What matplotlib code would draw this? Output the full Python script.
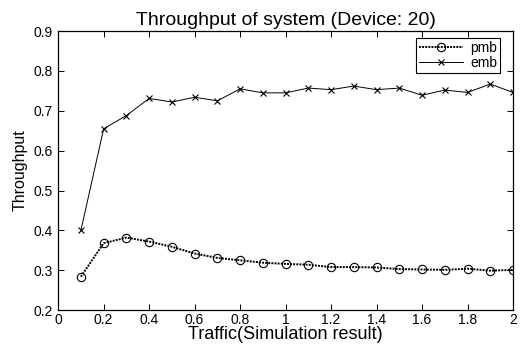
import matplotlib
matplotlib.use('Agg')
import matplotlib.pyplot as plt
import numpy as np

plt.rcParams['font.family'] = ['Liberation Sans', 'DejaVu Sans']

# traffic values (simulation result)
traffic = [0.1, 0.2, 0.3, 0.4, 0.5, 0.6, 0.7, 0.8, 0.9, 1.0,
           1.1, 1.2, 1.3, 1.4, 1.5, 1.6, 1.7, 1.8, 1.9, 2.0]
pmb = [0.284, 0.368, 0.382, 0.372, 0.359, 0.342, 0.331, 0.325, 0.319, 0.316,
       0.314, 0.308, 0.308, 0.307, 0.303, 0.302, 0.301, 0.304, 0.299, 0.301]
emb = [0.400, 0.655, 0.688, 0.731, 0.722, 0.734, 0.725, 0.755, 0.745, 0.745,
       0.757, 0.753, 0.762, 0.753, 0.757, 0.739, 0.752, 0.746, 0.767, 0.746]

xticks = [0, 0.2, 0.4, 0.6, 0.8, 1, 1.2, 1.4, 1.6, 1.8, 2]
xticklabels = ['0', '0.2', '0.4', '0.6', '0.8', '1', '1.2', '1.4', '1.6', '1.8', '2']
yticks = [0.2, 0.3, 0.4, 0.5, 0.6, 0.7, 0.8, 0.9]

fig = plt.figure(figsize=(5.24, 3.45), dpi=100)
ax = fig.add_axes([0.111, 0.101, 0.868, 0.809])

ax.plot(traffic, pmb, color='black', linestyle=(0, (1, 0.6)), linewidth=1.4,
        marker='o', markersize=6, markerfacecolor='none', markeredgewidth=0.8,
        label='pmb')
ax.plot(traffic, emb, color='black', linestyle='-', linewidth=0.7,
        marker='x', markersize=4, markeredgewidth=0.8, label='emb')

ax.set_xlim(0, 2)
ax.set_ylim(0.2, 0.9)
ax.set_xticks(xticks)
ax.set_xticklabels(xticklabels)
ax.set_yticks(yticks)
ax.set_yticklabels(['%.1f' % v for v in yticks])
ax.tick_params(direction='in', top=True, right=True, labelsize=10, length=4,
               width=0.7)
ax.tick_params(axis='x', pad=2)
ax.tick_params(axis='y', pad=4)
for s in ax.spines.values():
    s.set_linewidth(0.9)

ax.set_title('Throughput of system (Device: 20)', fontsize=14, pad=4)
ax.set_xlabel('Traffic(Simulation result)', fontsize=13, labelpad=-1)
ax.set_ylabel('Throughput', fontsize=11.5, labelpad=4)

leg = ax.legend(loc='upper right', bbox_to_anchor=(0.971, 0.975),
                fontsize=10, fancybox=False, framealpha=1,
                edgecolor='black', borderaxespad=0, handlelength=3.2,
                borderpad=0.2, labelspacing=0.1, handletextpad=0.5)
leg.get_frame().set_linewidth(0.8)

fig.savefig('out.png', dpi=100)
